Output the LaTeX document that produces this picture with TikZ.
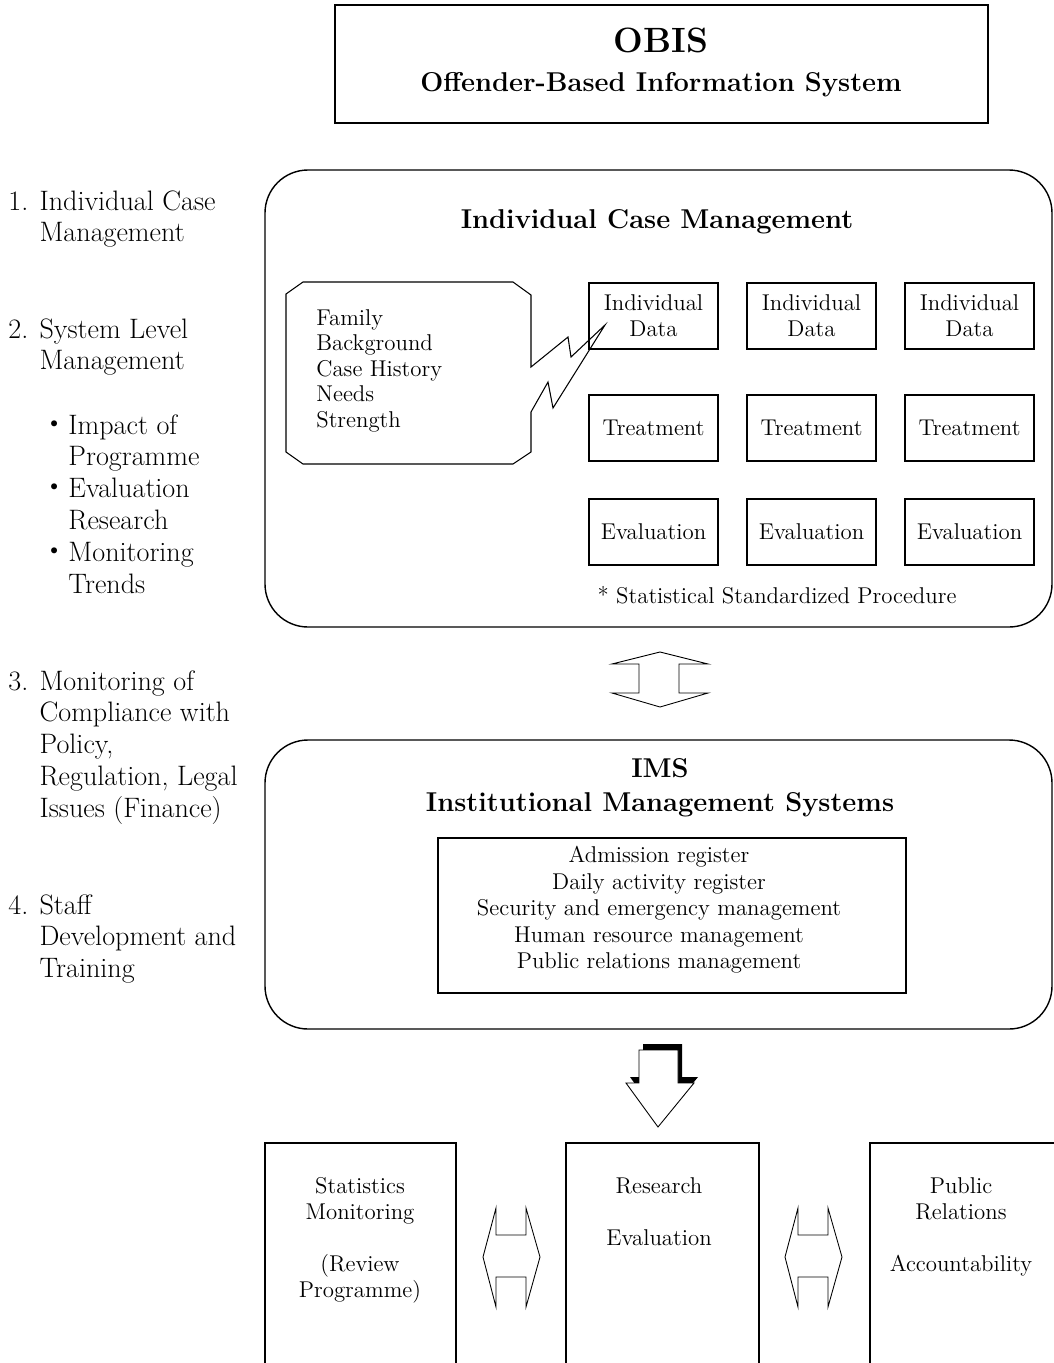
\documentclass[tikz,border=0pt]{standalone}
\usepackage{fontspec}
\newfontfamily\cjk{Noto Sans CJK JP}

\tikzset{
  body/.style={font=\fontsize{13}{14.8}\selectfont, inner sep=0pt, align=center},
  side/.style={font=\fontsize{16}{18.1}\selectfont, inner sep=0pt, align=left, anchor=north west},
  heading/.style={font=\fontsize{15.5}{18}\selectfont\bfseries, inner sep=0pt},
  cell/.style={draw, line width=1.1pt, minimum width=2.58cm, minimum height=1.32cm, inner sep=0pt,
    align=center, font=\fontsize{13}{14.8}\selectfont},
  panel/.style={line width=0.8pt, rounded corners=0.86cm},
  frame/.style={line width=1.1pt},
  hollow/.style={line width=0.5pt, fill=white, line join=miter}
}

\begin{document}
\begin{tikzpicture}[x=0.02cm, y=-0.02cm]
    \useasboundingbox (0,0) rectangle (1054,1363);
    \clip (0,0) rectangle (1054,1363);

    % header
    \draw [frame] (335,5) rectangle (988,123);
    \node (obis) [heading, font=\fontsize{20}{22}\selectfont\bfseries] at (661,40) {OBIS};
    \node (obisfull) [heading] at (661,85) {Offender-Based Information System};

    % left column
    \node (item1) [side] at (8,190) {1. Individual Case\\\phantom{1. }Management};
    \node (item2) [side] at (8,318) {2. System Level\\\phantom{2. }Management};
    \node (bullet1) [side] at (40,414) {{\cjk ・}Impact of\\\phantom{\cjk ・}Programme};
    \node (bullet2) [side] at (40,478) {{\cjk ・}Evaluation\\\phantom{\cjk ・}Research};
    \node (bullet3) [side] at (40,542) {{\cjk ・}Monitoring\\\phantom{\cjk ・}Trends};
    \node (item3) [side] at (8,670) {3. Monitoring of\\\phantom{3. }Compliance with\\\phantom{3. }Policy,\\\phantom{3. }Regulation, Legal\\\phantom{3. }Issues (Finance)};
    \node (item4) [side] at (8,894) {4. Staff\\\phantom{4. }Development and\\\phantom{4. }Training};

    % individual case management
    \draw [panel] (265,170) rectangle (1052,627);
    \node (icm) [heading] at (657,222) {Individual Case Management};

    \foreach \col [count=\i] in {653.5, 811.5, 969.5} {
        \node (data\i) [cell] at (\col,316) {Individual\\Data};
        \node (treat\i) [cell] at (\col,428) {Treatment};
        \node (eval\i) [cell] at (\col,532) {Evaluation};
    }

    % callout
    \draw [line width=0.6pt] (303,282) -- (513,282) -- (531,295) -- (531,367) -- (568,337) -- (571,357)
        -- (605,325) -- (553,408) -- (548,382) -- (531,412) -- (531,452) -- (513,464) -- (303,464)
        -- (286,452) -- (286,294) -- cycle;
    \node (facts) [body, align=left, anchor=north west, font=\fontsize{13}{14.5}\selectfont] at (316,309)
        {Family\\Background\\Case History\\Needs\\Strength};

    \node (note) [body] at (777,595) {* Statistical Standardized Procedure};

    % two-way arrow
    \draw [hollow] (660,652) -- (708,664) -- (679,664) -- (679,693) -- (708,693) -- (660,707)
        -- (612,693) -- (639,693) -- (639,664) -- (612,664) -- cycle;

    % IMS
    \draw [panel] (265,740) rectangle (1052,1029);
    \node (ims) [heading] at (660,768) {IMS};
    \node (imsfull) [heading] at (660,805) {Institutional Management Systems};
    \draw [frame] (438,838) rectangle (906,993);
    \node (registers) [body, font=\fontsize{13}{15.1}\selectfont] at (659,910)
        {Admission register\\Daily activity register\\Security and emergency management\\Human resource management\\Public relations management};

    % down arrow
    \begin{scope}[shift={(4,-6)}]
        \fill (639,1050) -- (678,1050) -- (678,1083) -- (694,1083) -- (658,1127) -- (626,1083) -- (639,1083) -- cycle;
    \end{scope}
    \draw [hollow] (639,1050) -- (678,1050) -- (678,1083) -- (694,1083) -- (658,1127) -- (626,1083) -- (639,1083) -- cycle;

    % outputs
    \draw [frame] (265,1143) rectangle (456,1400);
    \draw [frame] (566,1143) rectangle (759,1400);
    \draw [frame] (870,1143) rectangle (1070,1400);
    \node (stats) [body, anchor=north] at (360,1177) {Statistics\\Monitoring\\[14.8pt](Review\\Programme)};
    \node (research) [body, anchor=north] at (659,1177) {Research\\[14.8pt]Evaluation};
    \node (public) [body, anchor=north] at (961,1177) {Public\\Relations\\[14.8pt]Accountability};

    \foreach \cx in {511, 813} {
        \draw [hollow] (\cx-28,1257) -- (\cx-15,1208) -- (\cx-15,1235) -- (\cx+15,1235) -- (\cx+15,1208)
            -- (\cx+29,1257) -- (\cx+15,1307) -- (\cx+15,1277) -- (\cx-15,1277) -- (\cx-15,1307) -- cycle;
    }
\end{tikzpicture}
\end{document}
